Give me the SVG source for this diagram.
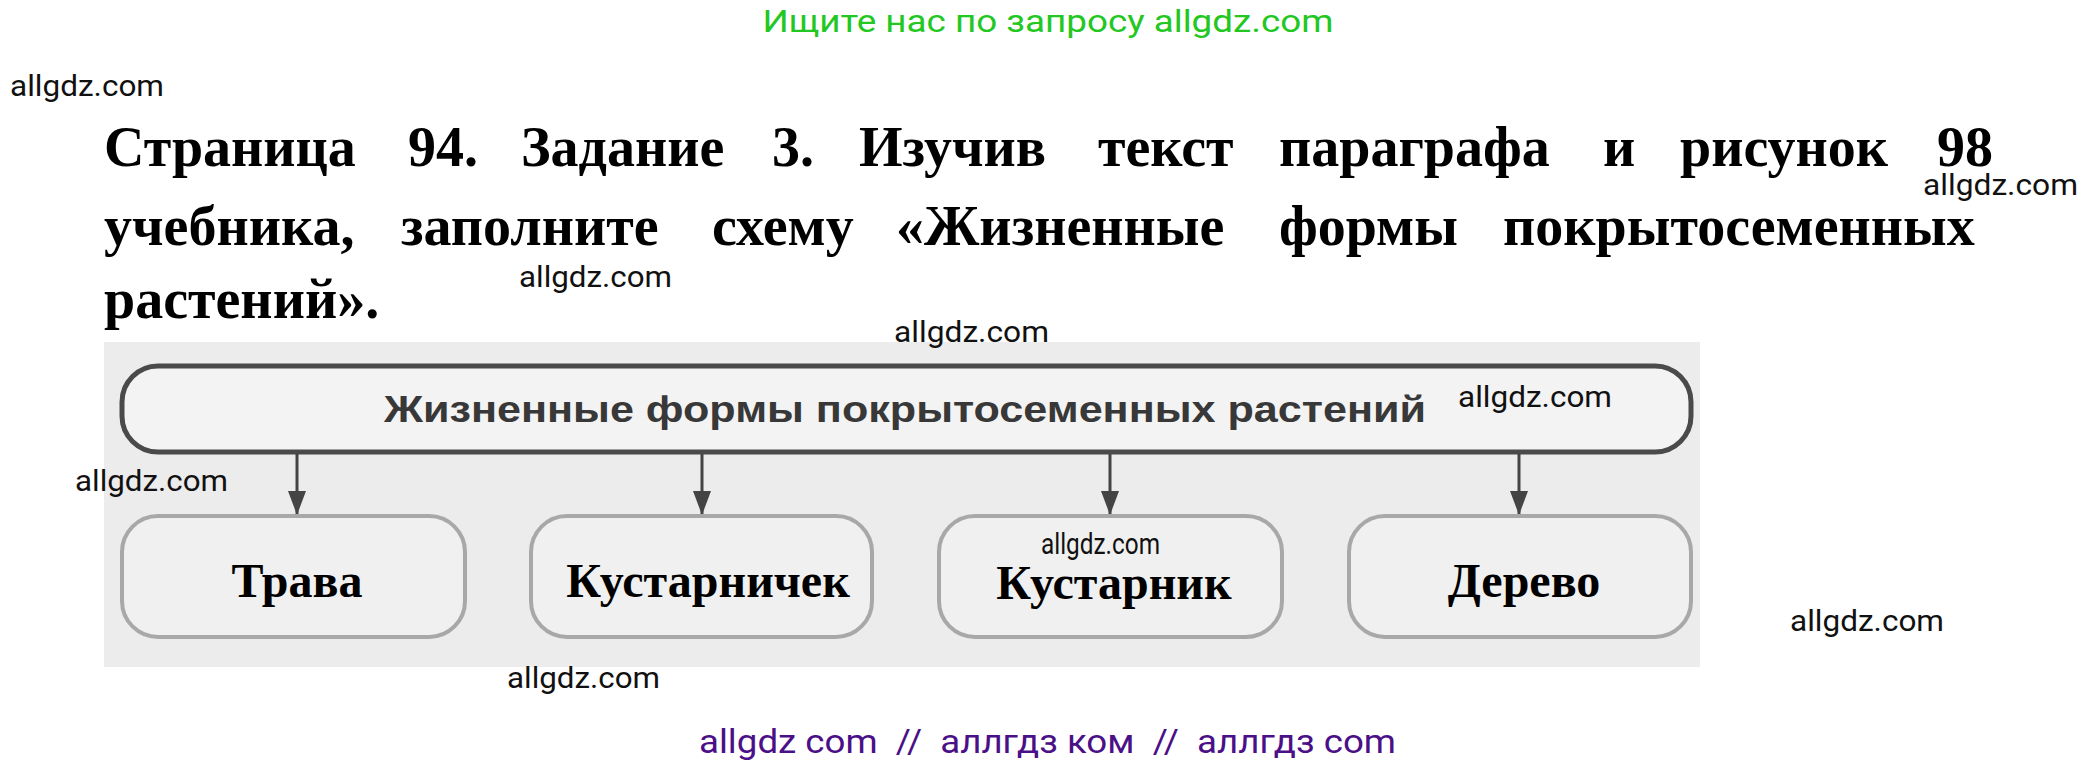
<svg xmlns="http://www.w3.org/2000/svg" width="2096" height="769" viewBox="0 0 2096 769">
<style>
.wm{font-family:Roboto,"Liberation Sans",sans-serif;font-size:29px;fill:#111;}
.title{font-family:"Liberation Serif","Times New Roman",serif;font-weight:bold;font-size:56px;fill:#000;}
.lbl{font-family:"Liberation Serif","Times New Roman",serif;font-weight:bold;font-size:48px;fill:#000;text-anchor:middle;}
.top{fill:#f3f3f3;stroke:#4a4a4a;stroke-width:5;}
.box{fill:#f0f0f0;stroke:#a8a8a8;stroke-width:4;}
.conn{stroke:#444;stroke-width:3;fill:none;}
</style>
<defs>
<marker id="ah" markerUnits="userSpaceOnUse" markerWidth="24" markerHeight="18" viewBox="0 0 24 18" refX="24" refY="9" orient="auto">
<path d="M0,0 L24,9 L0,18 z" fill="#444"/>
</marker>
</defs>
<rect width="2096" height="769" fill="#fff"/>
<text x="1048" y="32" font-family="Roboto,'Liberation Sans',sans-serif" font-size="31" fill="#22c722" text-anchor="middle" textLength="571" lengthAdjust="spacingAndGlyphs">Ищите нас по запросу allgdz.com</text>
<g id="title">
<text class="title" y="166"><tspan x="104">Страница</tspan><tspan x="408">94.</tspan><tspan x="521">Задание</tspan><tspan x="772">3.</tspan><tspan x="859">Изучив</tspan><tspan x="1098">текст</tspan><tspan x="1279">параграфа</tspan><tspan x="1603">и</tspan><tspan x="1680">рисунок</tspan><tspan x="1937">98</tspan></text>
<text class="title" y="245"><tspan x="104">учебника,</tspan><tspan x="401">заполните</tspan><tspan x="712">схему</tspan><tspan x="896">«Жизненные</tspan><tspan x="1279">формы</tspan><tspan x="1503">покрытосеменных</tspan></text>
<text class="title" x="104" y="318">растений».</text>
</g>
<rect x="104" y="342" width="1596" height="325" fill="#ececec"/>
<g id="root">
<rect class="top" x="122" y="366" width="1569" height="86" rx="36" ry="36"/>
<text x="384" y="422" font-family="'Liberation Sans',Arial,sans-serif" font-weight="bold" font-size="37" fill="#383838" textLength="1042" lengthAdjust="spacingAndGlyphs">Жизненные формы покрытосеменных растений</text>
</g>
<g id="connectors">
<line class="conn" x1="297" y1="454" x2="297" y2="515" marker-end="url(#ah)"/>
<line class="conn" x1="702" y1="454" x2="702" y2="515" marker-end="url(#ah)"/>
<line class="conn" x1="1110" y1="454" x2="1110" y2="515" marker-end="url(#ah)"/>
<line class="conn" x1="1519" y1="454" x2="1519" y2="515" marker-end="url(#ah)"/>
</g>
<g id="n1"><rect class="box" x="122" y="516" width="343" height="121" rx="36" ry="36"/><text class="lbl" x="297" y="597">Трава</text></g>
<g id="n2"><rect class="box" x="531" y="516" width="341" height="121" rx="36" ry="36"/><text class="lbl" x="708" y="597">Кустарничек</text></g>
<g id="n3"><rect class="box" x="939" y="516" width="343" height="121" rx="36" ry="36"/><text class="lbl" x="1114" y="599">Кустарник</text></g>
<g id="n4"><rect class="box" x="1349" y="516" width="342" height="121" rx="36" ry="36"/><text class="lbl" x="1524" y="597">Дерево</text></g>
<g id="watermarks">
<text class="wm" x="10" y="96" textLength="154" lengthAdjust="spacingAndGlyphs">allgdz.com</text>
<text class="wm" x="1923" y="195" textLength="155" lengthAdjust="spacingAndGlyphs">allgdz.com</text>
<text class="wm" x="519" y="287" textLength="153" lengthAdjust="spacingAndGlyphs">allgdz.com</text>
<text class="wm" x="894" y="342" textLength="155" lengthAdjust="spacingAndGlyphs">allgdz.com</text>
<text class="wm" x="1458" y="407" textLength="154" lengthAdjust="spacingAndGlyphs">allgdz.com</text>
<text class="wm" x="75" y="491" textLength="153" lengthAdjust="spacingAndGlyphs">allgdz.com</text>
<text class="wm" x="1041" y="554" font-size="21" textLength="119" lengthAdjust="spacingAndGlyphs">allgdz.com</text>
<text class="wm" x="1790" y="631" textLength="154" lengthAdjust="spacingAndGlyphs">allgdz.com</text>
<text class="wm" x="507" y="688" textLength="153" lengthAdjust="spacingAndGlyphs">allgdz.com</text>
</g>
<text x="699" y="753" font-family="Roboto,'Liberation Sans',sans-serif" font-size="33" fill="#4b1088" xml:space="preserve" textLength="697" lengthAdjust="spacingAndGlyphs">allgdz com  //  аллгдз ком  //  аллгдз com</text>
</svg>
